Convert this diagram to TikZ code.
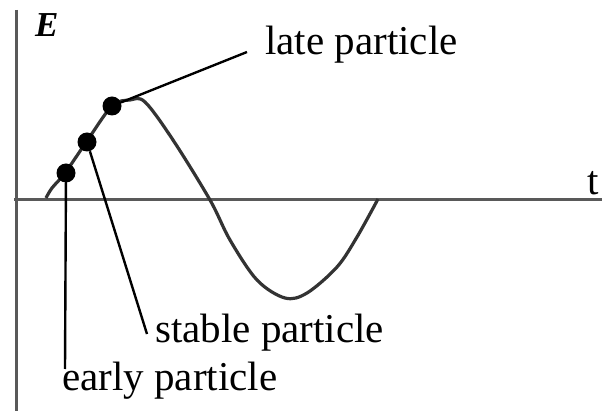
\documentclass[tikz,border=0pt]{standalone}
\usepackage{fontspec}
\setmainfont{Liberation Serif}
\begin{document}
\begin{tikzpicture}[x=1pt,y=-1pt,
  axis/.style={line width=3pt,draw=black!65},
  wave/.style={line width=3.2pt,draw=black!80},
  dot/.style={circle,fill=black,inner sep=0pt,minimum size=19pt},
  leader/.style={line width=2.4pt,draw=black},
  lbl/.style={inner sep=0pt,anchor=base west}]
\useasboundingbox (0,0) rectangle (602,411);
% axes
\draw[axis] (16,10) -- (16,411);
\draw[axis] (14,200) -- (602,200);
\node[inner sep=0pt,anchor=base west] (E) at (35,37) {\fontsize{35}{40}\selectfont\bfseries\itshape E};
\node[lbl] (t) at (587,195) {\fontsize{41}{48}\selectfont t};
% wave
\draw[wave] plot[smooth,tension=0.55] coordinates {(46,198) (52,188) (65,173) (87,141) (112,106) (130,100) (145,102) (173,140) (210,200) (230,240) (257,280) (285,298) (307,293) (337,267) (357,237) (378,199)};
% particles
\node[dot] (late) at (112,106) {};
\node[dot] (stable) at (87,142) {};
\node[dot] (early) at (66,173) {};
% labels
\node[lbl] (latel) at (265,55) {\fontsize{41}{48}\selectfont late particle};
\node[lbl] (stablel) at (155,343) {\fontsize{41}{48}\selectfont stable particle};
\node[lbl] (earlyl) at (62,390) {\fontsize{41}{48}\selectfont early particle};
\coordinate (lateend) at (247,52);
\coordinate (stableend) at (147,334);
\coordinate (earlyend) at (65,369);
\draw[leader] (late) -- (lateend);
\draw[leader] (stable) -- (stableend);
\draw[leader] (early.center) -- (earlyend);
\end{tikzpicture}
\end{document}
